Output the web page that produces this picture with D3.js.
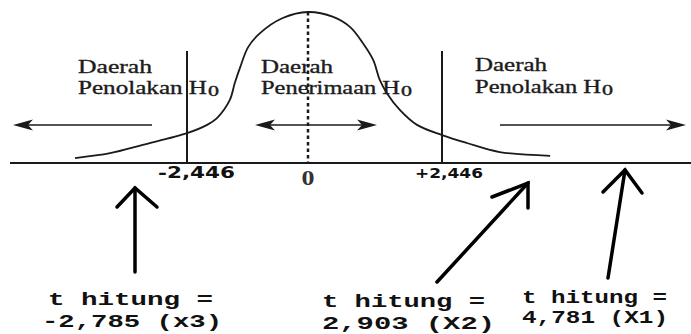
<!DOCTYPE html>
<html>
<head>
<meta charset="utf-8">
<script src="https://cdn.jsdelivr.net/npm/d3@7"></script>
<style>
  body { margin: 0; background: #fff; }
  svg { display: block; }
</style>
</head>
<body>
<div id="chart"></div>
<script>
// titik kurva (nilai t, tinggi kurva)
var curveT = [-4.71, -4.00, -3.34, -2.446, -2.04, -1.84, -1.58, -1.48, -1.37, -1.21, -0.97, -0.51, 0,
              0.46, 0.77, 1.00, 1.19, 1.31, 1.44, 1.68, 1.99, 2.446, 2.90, 3.50, 4.42];
var curveD = [0.013, 0.026, 0.048, 0.079, 0.101, 0.119, 0.167, 0.212, 0.254, 0.307, 0.344, 0.384, 0.400,
              0.387, 0.360, 0.318, 0.273, 0.220, 0.185, 0.140, 0.101, 0.074, 0.053, 0.029, 0.019];

var tKritis = [-2.446, 2.446];        // batas daerah
var tickVals = [-2.446, 0, 2.446];
var tickLabels = ["-2,446", "0", "+2,446"];
var tinggiKritis = 0.297;             // tinggi garis batas (satuan kurva)

// label daerah
var daerahBaris1 = ["Daerah", "Daerah", "Daerah"];
var daerahBaris2 = ["Penolakan H", "Penerimaan H", "Penolakan H"];

// t hitung
var hitungNama = ["x3", "X2", "X1"];
var hitungNilai = ["-2,785", "2,903", "4,781"];

var W = 691, H = 334;
var svg = d3.select("#chart").append("svg").attr("width", W).attr("height", H);

// skala x tidak simetris (gambar asli tidak proporsional)
var x = d3.scaleLinear().domain([-2.446, 0, 2.446]).range([187, 308, 442]);
var y = d3.scaleLinear().domain([0, 0.4]).range([163, 12]);

var ink = "#1a1a1a";
var serif = "'Liberation Serif', 'Times New Roman', serif";
var mono = "'Liberation Mono', 'Courier New', monospace";

// garis dasar
svg.append("line")
    .attr("x1", 10).attr("x2", W)
    .attr("y1", y(0)).attr("y2", y(0))
    .attr("stroke", ink).attr("stroke-width", 2);

// kurva
var pts = curveT.map(function(t, i){ return [t, curveD[i]]; });
var line = d3.line()
    .x(function(d){ return x(d[0]); })
    .y(function(d){ return y(d[1]); })
    .curve(d3.curveCatmullRom.alpha(0.5));
svg.append("path")
    .attr("d", line(pts))
    .attr("fill", "none")
    .attr("stroke", ink)
    .attr("stroke-width", 1.8);

// garis batas kritis
svg.selectAll(".krit").data(tKritis).enter().append("line")
    .attr("class", "krit")
    .attr("x1", function(d){ return x(d); }).attr("x2", function(d){ return x(d); })
    .attr("y1", y(tinggiKritis)).attr("y2", y(0))
    .attr("stroke", ink).attr("stroke-width", 2);

// garis putus-putus di tengah
svg.append("line")
    .attr("x1", x(0)).attr("x2", x(0))
    .attr("y1", y(0.4)).attr("y2", y(0))
    .attr("stroke", ink).attr("stroke-width", 2.5)
    .attr("stroke-dasharray", "3.5,3");

// panah arah daerah
function kepala(px, py, dir){ // dir -1 kiri, 1 kanan
    var L = 20, h = 5.5;
    var p = [[px, py], [px - dir*L, py - h], [px - dir*(L-5), py], [px - dir*L, py + h]];
    svg.append("path").attr("d", d3.line()(p) + "Z").attr("fill", ink);
}
var panahY = 125;
var panah = [
    {a: 13, b: 152, kiri: true, kanan: false},
    {a: 255, b: 377, kiri: true, kanan: true},
    {a: 500, b: 686, kiri: false, kanan: true}
];
panah.forEach(function(p){
    svg.append("line")
        .attr("x1", p.a + (p.kiri ? 10 : 0)).attr("x2", p.b - (p.kanan ? 10 : 0))
        .attr("y1", panahY).attr("y2", panahY)
        .attr("stroke", ink).attr("stroke-width", 1.4);
    if(p.kiri) kepala(p.a, panahY, -1);
    if(p.kanan) kepala(p.b, panahY, 1);
});

// label daerah (serif, melebar)
var labelPos = [
    {x: 78, y1: 73, w1: 74, y2: 94, w2: 129},
    {x: 261, y1: 73, w1: 72, y2: 94, w2: 139},
    {x: 475, y1: 71, w1: 72, y2: 93, w2: 126}
];
function serifText(tx, ty, fs, w, s){
    svg.append("text")
        .attr("x", tx).attr("y", ty)
        .attr("font-family", serif)
        .attr("font-size", fs).attr("fill", "#1c1c1c")
        .attr("stroke", "#1c1c1c").attr("stroke-width", 0.35)
        .attr("textLength", w).attr("lengthAdjust", "spacingAndGlyphs")
        .text(s);
}
labelPos.forEach(function(p, i){
    serifText(p.x, p.y1, 18.5, p.w1, daerahBaris1[i]);
    serifText(p.x, p.y2, 18.5, p.w2, daerahBaris2[i]);
    serifText(p.x + p.w2 + 1, p.y2 + 2, 14, 11, "0");
});

// label sumbu
var tickStyle = [
    {w: 77, fs: 15, fam: "'DejaVu Sans', Verdana, sans-serif", y: 178, anchor: "end", dx: 48},
    {w: 13, fs: 20, fam: serif, y: 185, anchor: "middle", dx: 0},
    {w: 68, fs: 14, fam: "'DejaVu Sans', Verdana, sans-serif", y: 178, anchor: "end", dx: 41}
];
svg.selectAll(".tick").data(tickVals).enter().append("text")
    .attr("class", "tick")
    .attr("x", function(d, i){ return x(d) + tickStyle[i].dx; })
    .attr("y", function(d, i){ return tickStyle[i].y; })
    .attr("text-anchor", function(d, i){ return tickStyle[i].anchor; })
    .attr("font-family", function(d, i){ return tickStyle[i].fam; })
    .attr("font-size", function(d, i){ return tickStyle[i].fs; })
    .attr("font-weight", 700)
    .attr("fill", function(d, i){ return i === 1 ? "#333" : "#111"; })
    .attr("textLength", function(d, i){ return tickStyle[i].w; })
    .attr("lengthAdjust", "spacingAndGlyphs")
    .text(function(d, i){ return tickLabels[i]; });

// panah tangan + teks t hitung
var anot = [
    {tail: [135, 272], tip: [135, 188], w1: [117, 207], w2: [157, 207],
     tx: 48, b1: 305, l1: 165, b2: 327, l2: 180, dx2: -6, fs: 19},
    {tail: [437, 282], tip: [528, 183], w1: [492, 197], w2: [528, 208],
     tx: 322, b1: 307, l1: 163, b2: 329, l2: 173, dx2: 0, fs: 19},
    {tail: [608, 278], tip: [625, 170], w1: [603, 192], w2: [642, 193],
     tx: 522, b1: 303, l1: 145, b2: 323, l2: 146, dx2: 0, fs: 18}
];
anot.forEach(function(a, i){
    svg.append("path")
        .attr("d", d3.line()([a.tail, a.tip]))
        .attr("stroke", "#000").attr("stroke-width", 3.5).attr("fill", "none")
        .attr("stroke-linecap", "round");
    svg.append("path")
        .attr("d", d3.line()([a.w1, a.tip, a.w2]))
        .attr("stroke", "#000").attr("stroke-width", 3.5).attr("fill", "none")
        .attr("stroke-linecap", "round").attr("stroke-linejoin", "miter");
    svg.append("text")
        .attr("x", a.tx).attr("y", a.b1)
        .attr("font-family", mono)
        .attr("font-weight", 700).attr("font-size", a.fs).attr("fill", "#111")
        .attr("textLength", a.l1).attr("lengthAdjust", "spacingAndGlyphs")
        .text("t hitung =");
    svg.append("text")
        .attr("x", a.tx + a.dx2).attr("y", a.b2)
        .attr("font-family", mono)
        .attr("font-weight", 700).attr("font-size", a.fs).attr("fill", "#111")
        .attr("textLength", a.l2).attr("lengthAdjust", "spacingAndGlyphs")
        .text(hitungNilai[i] + " (" + hitungNama[i] + ")");
});
</script>
</body>
</html>
